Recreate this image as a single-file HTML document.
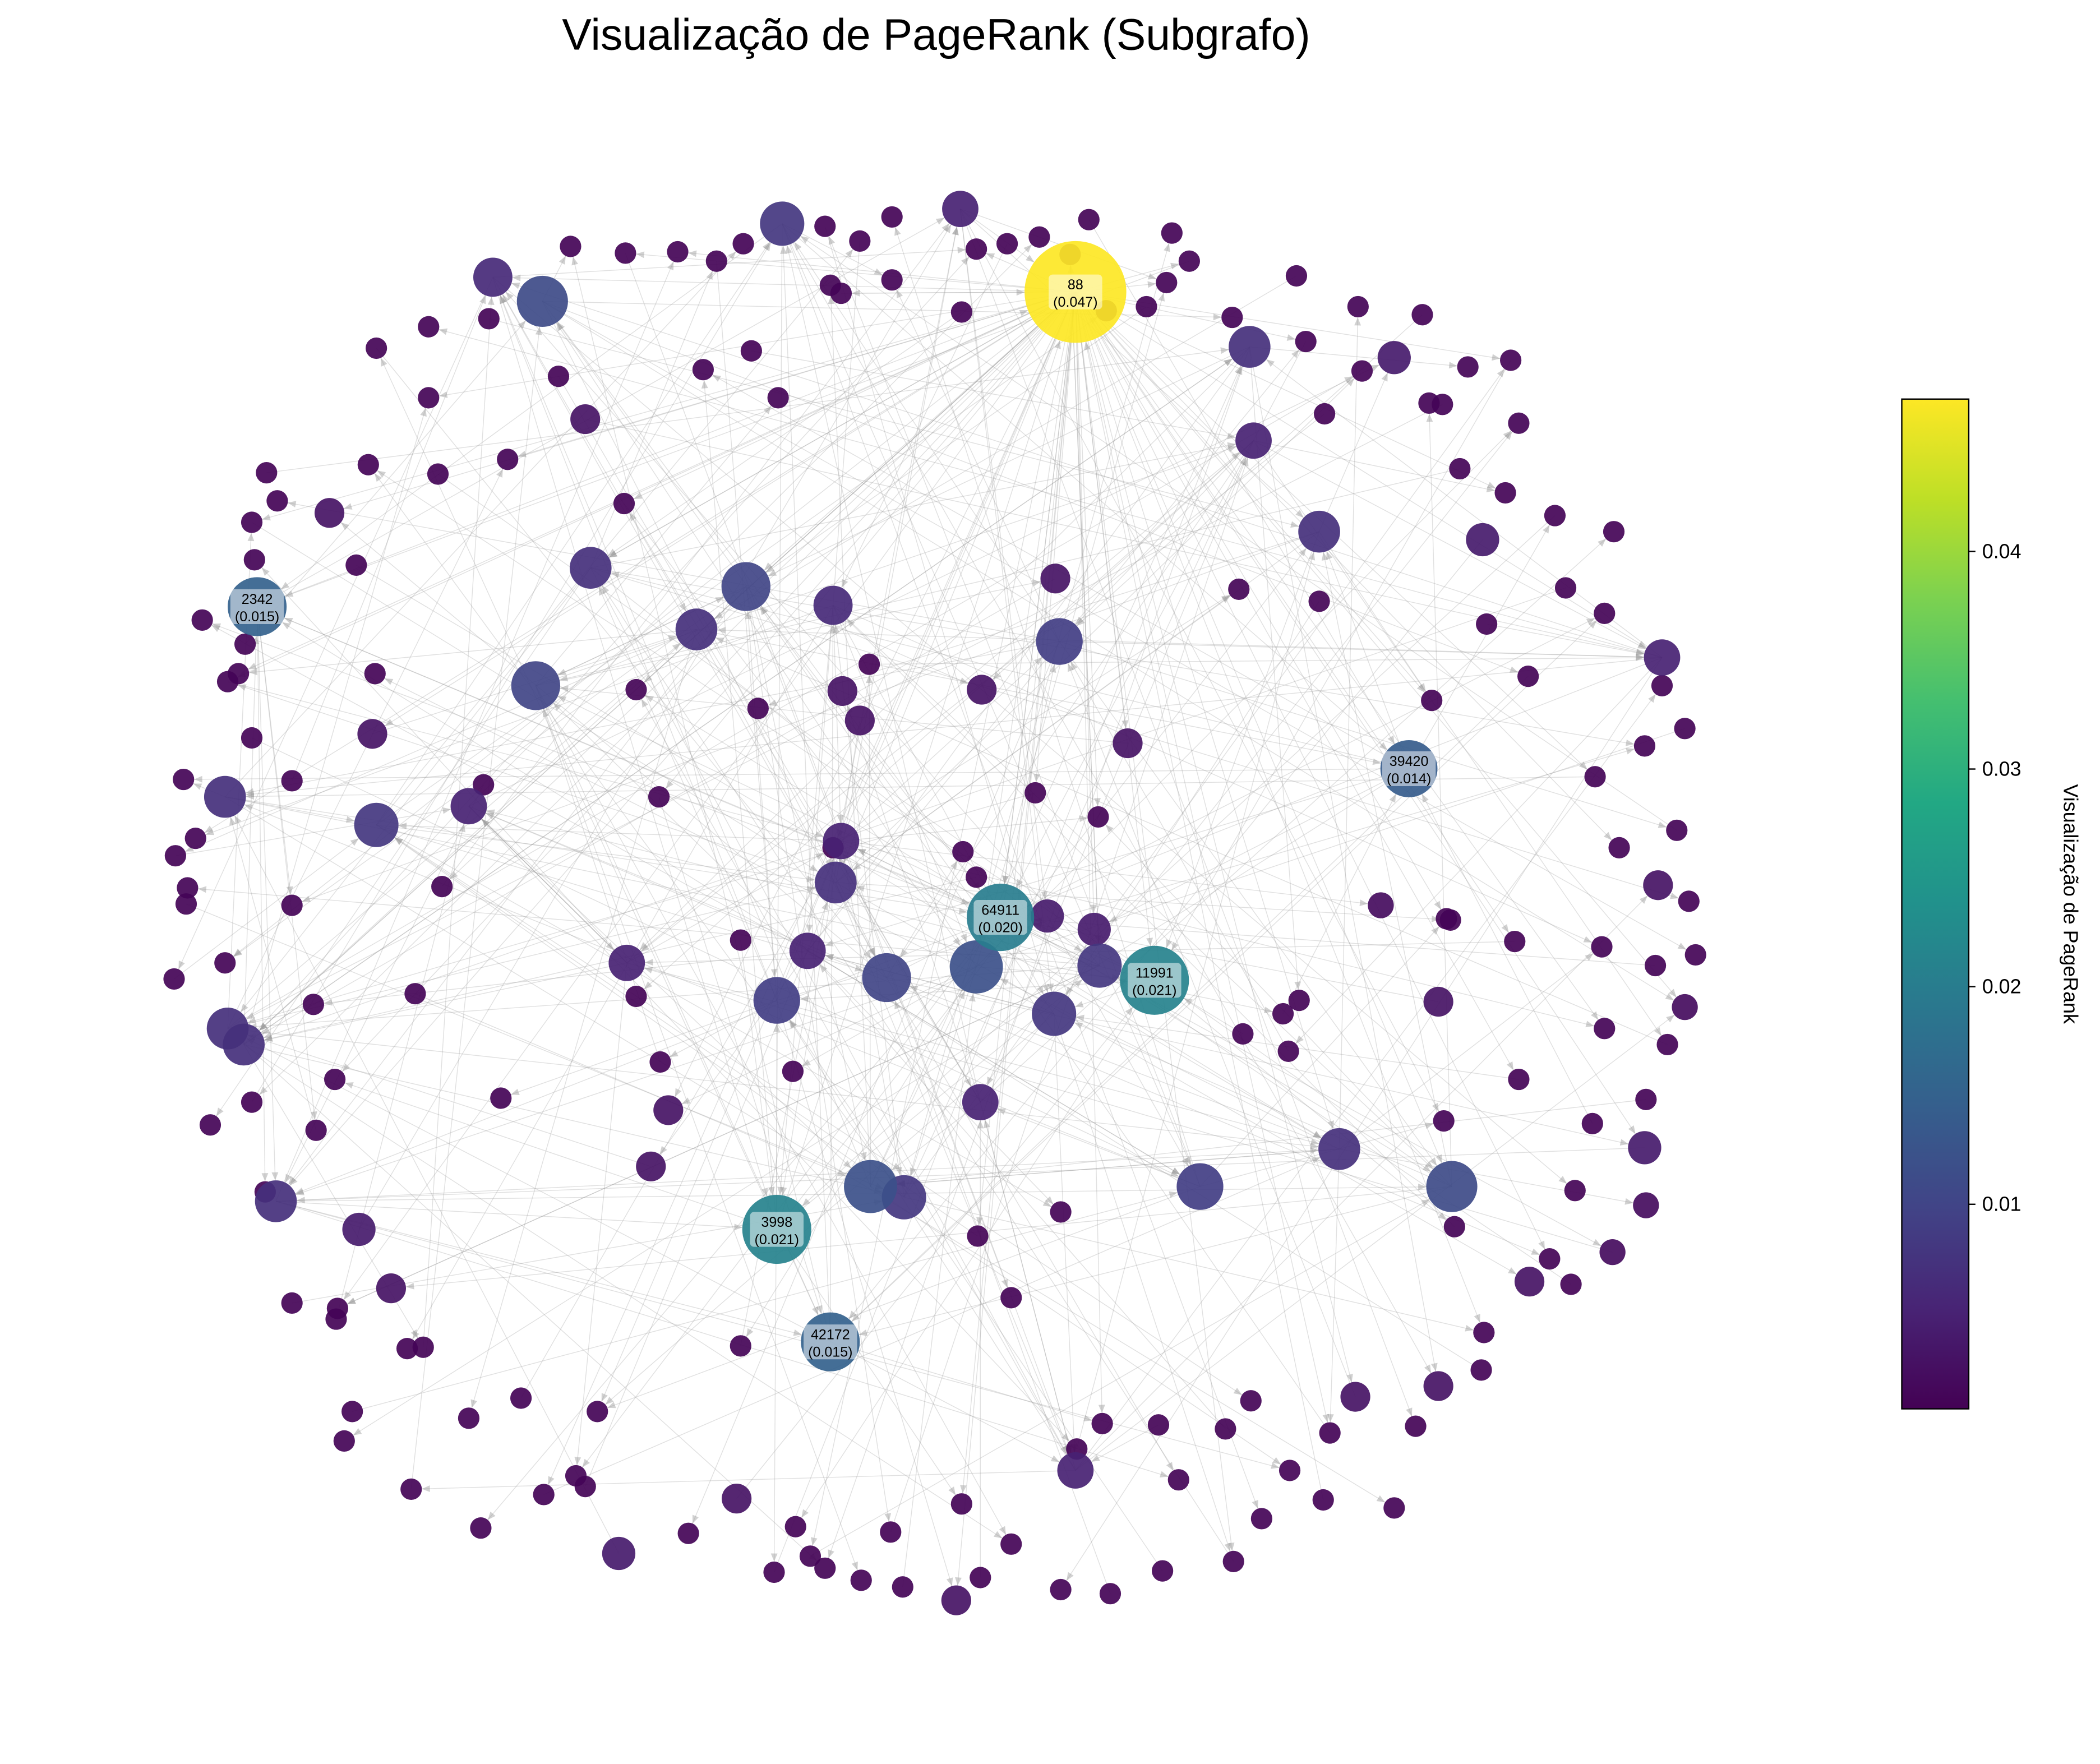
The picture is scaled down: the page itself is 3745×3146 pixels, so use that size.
<!DOCTYPE html>
<html><head><meta charset="utf-8"><style>
html,body{margin:0;padding:0;background:#fff}
svg{display:block}
text{font-family:"Liberation Sans","DejaVu Sans",sans-serif}
</style></head><body>
<svg id="chart" xmlns="http://www.w3.org/2000/svg" width="3745" height="3146" viewBox="0 0 1568 1317.2">
<text x="699" y="37" font-size="33" text-anchor="middle" fill="#000">Visualização de PageRank (Subgrafo)</text>
<g id="edges"></g>
<g id="nodes"></g>
<g id="labels"></g>
<defs><linearGradient id="vir" x1="0" y1="1" x2="0" y2="0">
<stop offset="0" stop-color="#440154"/><stop offset="0.1" stop-color="#482475"/><stop offset="0.2" stop-color="#414487"/><stop offset="0.3" stop-color="#355f8d"/><stop offset="0.4" stop-color="#2a788e"/><stop offset="0.5" stop-color="#21918c"/><stop offset="0.6" stop-color="#22a884"/><stop offset="0.7" stop-color="#44bf70"/><stop offset="0.8" stop-color="#7ad151"/><stop offset="0.9" stop-color="#bddf26"/><stop offset="1" stop-color="#fde725"/></linearGradient></defs>
<g id="colorbar">
<rect x="1420" y="298" width="50" height="754" fill="url(#vir)" stroke="#000" stroke-width="1"/>
<g id="cbticks"></g>
<text transform="translate(1541,675) rotate(90)" font-size="15" text-anchor="middle">Visualização de PageRank</text>
</g>
</svg>
<script>
const labeledIds=["88","2342","39420","64911","11991","3998","42172"];
const labeledX=[803,192,1052,747,862,580,620];
const labeledY=[218,453,574,685,732,918,1002];
const labeledRank=[0.047,0.015,0.014,0.020,0.021,0.021,0.015];
const midX=[584,717,368,405,933,936,985,441,557,622,520,791,400,1241,168,281,350,628,624,729,662,580,603,782,817,821,787,468,170,182,206,268,650,675,896,1000,1084,732,803,462,714,1228,1238,1107,1041,437,246,788,629,642,733,842,499,486,292,550,1074,1012,1142,1204,1229,1074,1258,278,1031];
const midY=[167,156,207,225,259,329,397,424,438,452,470,479,512,491,595,616,602,628,659,722,730,747,710,684,694,721,757,719,768,780,897,918,886,894,886,858,886,823,1098,1160,1195,857,661,403,267,313,383,432,516,538,515,555,829,871,962,1119,1035,1043,957,935,900,748,752,548,676];
const midRank=[.008,.005,.006,.011,.007,.005,.007,.007,.010,.006,.007,.009,.010,.005,.007,.008,.005,.005,.007,.012,.010,.009,.005,.004,.004,.008,.008,.005,.007,.007,.007,.004,.012,.008,.009,.007,.011,.005,.005,.004,.003,.004,.003,.004,.004,.003,.003,.003,.003,.003,.003,.003,.003,.003,.003,.003,.003,.003,.003,.002,.002,.003,.002,.003,.002];
const smallXY=[[616,169],[666,162],[813,164],[729,186],[752,182],[776,177],[799,190],[875,174],[888,195],[871,211],[856,229],[826,232],[642,180],[620,213],[628,219],[666,209],[718,233],[555,182],[535,195],[506,188],[467,189],[426,184],[365,238],[320,244],[281,260],[320,297],[417,281],[525,276],[561,262],[581,297],[466,376],[379,343],[327,354],[275,347],[199,353],[207,374],[188,390],[190,418],[266,422],[151,463],[183,481],[178,503],[170,509],[280,503],[188,551],[137,582],[218,583],[146,626],[131,639],[140,663],[139,675],[218,676],[330,662],[168,719],[130,731],[234,750],[310,742],[250,806],[188,823],[157,840],[236,844],[374,820],[361,586],[475,515],[492,595],[566,529],[649,496],[719,636],[729,655],[622,633],[553,702],[475,744],[493,793],[592,800],[773,592],[820,610],[928,772],[970,747],[962,785],[1083,687],[1131,703],[1196,707],[1236,721],[1266,713],[1245,780],[1198,768],[1134,806],[1078,837],[1189,839],[1176,889],[1086,916],[1157,940],[1173,959],[1108,995],[1106,1023],[1057,1065],[993,1070],[934,1046],[915,1067],[963,1098],[988,1120],[942,1134],[921,1166],[1041,1126],[868,1173],[880,1105],[865,1064],[823,1063],[804,1082],[792,1187],[829,1190],[755,1153],[732,1178],[718,1123],[665,1144],[643,1180],[674,1185],[616,1171],[605,1162],[594,1140],[578,1174],[514,1145],[437,1110],[430,1102],[406,1116],[359,1141],[307,1112],[350,1059],[389,1044],[446,1054],[263,1054],[257,1076],[316,1006],[304,1007],[251,985],[252,977],[218,973],[198,890],[553,1005],[755,969],[730,923],[792,905],[1229,821],[1209,633],[1252,620],[1261,673],[1191,580],[1228,557],[1258,544],[1241,512],[1141,505],[1069,523],[1110,466],[1198,458],[1169,439],[1205,397],[1161,385],[1124,368],[1090,350],[1134,316],[1077,302],[1067,301],[1128,269],[1096,274],[1062,235],[1017,277],[989,309],[1014,229],[975,255],[920,237],[968,206],[925,440],[985,449],[1080,686],[958,757]];
const smallRank=0.001;
const cbTicks=[0.01,0.02,0.03,0.04];
const cbTickLabels=["0.01","0.02","0.03","0.04"];
const cbMin=0.0006, cbMax=0.047;

const NS="http://www.w3.org/2000/svg";
const stops=["#440154","#482475","#414487","#355f8d","#2a788e","#21918c","#22a884","#44bf70","#7ad151","#bddf26","#fde725"];
function hex(h){return [1,3,5].map(i=>parseInt(h.substr(i,2),16));}
function viridis(t){t=Math.max(0,Math.min(1,t));const p=t*10,i=Math.min(9,Math.floor(p)),f=p-i;const a=hex(stops[i]),b=hex(stops[i+1]);return `rgb(${a.map((v,k)=>Math.round(v+(b[k]-v)*f)).join(",")})`;}
function cScale(v){return (v-cbMin)/(cbMax-cbMin);}
function rScale(v){return Math.sqrt(34+30000*v);}
function cbY(v){return 1052-(v-cbMin)/(cbMax-cbMin)*754;}

const nodes=[];
labeledX.forEach((x,i)=>nodes.push({x,y:labeledY[i],v:labeledRank[i],id:labeledIds[i]}));
midX.forEach((x,i)=>nodes.push({x,y:midY[i],v:midRank[i]}));
smallXY.forEach(p=>nodes.push({x:p[0],y:p[1],v:smallRank}));

const eg=document.getElementById('edges');
const hubs=nodes.map((n,i)=>i).filter(i=>nodes[i].v>=0.005);
function edge(a,b){const A=nodes[a],B=nodes[b];const dx=B.x-A.x,dy=B.y-A.y,d=Math.hypot(dx,dy);if(d<20)return;
 const ux=dx/d,uy=dy/d,rb=rScale(B.v);const ex=B.x-ux*rb,ey=B.y-uy*rb;
 const l=document.createElementNS(NS,'line');
 
 
 l.setAttribute('x1',A.x);l.setAttribute('y1',A.y);l.setAttribute('x2',ex);l.setAttribute('y2',ey);
 l.setAttribute('stroke','#999');l.setAttribute('stroke-opacity','0.3');l.setAttribute('stroke-width','0.6');eg.appendChild(l);
 const ah=document.createElementNS(NS,'polygon');
 
 
 const px=-uy,py=ux;
 ah.setAttribute('points',`${ex},${ey} ${ex-ux*6+px*2.5},${ey-uy*6+py*2.5} ${ex-ux*6-px*2.5},${ey-uy*6-py*2.5}`);
 ah.setAttribute('fill','#999');ah.setAttribute('fill-opacity','0.45');eg.appendChild(ah);}
nodes.forEach((n,i)=>{const h1=hubs[(i*7)%hubs.length],h2=hubs[(i*13+5)%hubs.length];
 if(i%2)edge(h1,i);else edge(i,h1);
 if(i%3===0)edge(h2,i);});
for(let k=0;k<60;k++){edge(0,(k*11+3)%nodes.length);}
hubs.forEach((h,i)=>{edge(h,hubs[(i*5+3)%hubs.length]);edge(hubs[(i*3+1)%hubs.length],h);});

const ng=document.getElementById('nodes');
nodes.map((n,i)=>i).sort((a,b)=>nodes[a].v-nodes[b].v).forEach(i=>{const n=nodes[i];
 const c=document.createElementNS(NS,'circle');
 
 
 c.setAttribute('cx',n.x);c.setAttribute('cy',n.y);c.setAttribute('r',rScale(n.v));
 c.setAttribute('fill',viridis(cScale(n.v)));c.setAttribute('fill-opacity','0.92');ng.appendChild(c);});

const lg=document.getElementById('labels');
labeledIds.forEach((id,i)=>{const x=labeledX[i],y=labeledY[i];
 const b=document.createElementNS(NS,'rect');
 
 
 b.setAttribute('x',x-20);b.setAttribute('y',y-13);b.setAttribute('width',40);b.setAttribute('height',26);b.setAttribute('rx',3);
 b.setAttribute('fill','#fff');b.setAttribute('fill-opacity','0.5');lg.appendChild(b);
 const t=document.createElementNS(NS,'text');
 
 
 t.setAttribute('x',x);t.setAttribute('y',y-2);t.setAttribute('font-size','10.5');t.setAttribute('text-anchor','middle');t.textContent=id;lg.appendChild(t);
 const t2=document.createElementNS(NS,'text');
 
 
 t2.setAttribute('x',x);t2.setAttribute('y',y+11);t2.setAttribute('font-size','10.5');t2.setAttribute('text-anchor','middle');t2.textContent='('+labeledRank[i].toFixed(3)+')';lg.appendChild(t2);});

const tg=document.getElementById('cbticks');
cbTicks.forEach((v,i)=>{const y=cbY(v);
 const l=document.createElementNS(NS,'line');
 
 
 l.setAttribute('x1',1470);l.setAttribute('x2',1475);l.setAttribute('y1',y);l.setAttribute('y2',y);l.setAttribute('stroke','#000');tg.appendChild(l);
 const t=document.createElementNS(NS,'text');
 
 
 t.setAttribute('x',1480);t.setAttribute('y',y+5);t.setAttribute('font-size','15');t.textContent=cbTickLabels[i];tg.appendChild(t);});
</script>
</body></html>
